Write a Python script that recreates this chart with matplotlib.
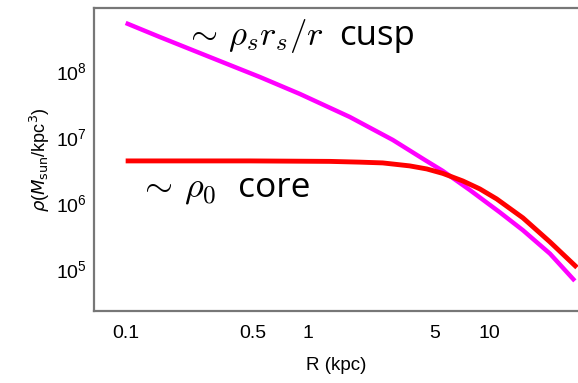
import matplotlib
matplotlib.use('Agg')
import matplotlib.pyplot as plt

# density profiles (R in kpc, rho in Msun/kpc^3)
r_cusp = [0.1, 0.154, 0.225, 0.35, 0.545, 0.904, 1.70, 2.93, 4.39, 5.52,
          7.76, 11.35, 15.2, 21.4, 29.3]
rho_cusp = [5.34e8, 3.27e8, 2.15e8, 1.32e8, 8.11e7, 4.49e7, 2.01e7, 9.01e6, 4.49e6, 3.05e6,
            1.57e6, 7.2e5, 3.85e5, 1.7e5, 6.58e4]

r_core = [0.1, 0.48, 1.32, 1.93, 2.58, 3.63, 4.51, 5.52, 7.11, 8.81, 10.9, 15.2, 21.4, 30.1]
rho_core = [4.33e6, 4.33e6, 4.26e6, 4.15e6, 4.04e6, 3.64e6, 3.27e6, 2.80e6, 2.15e6, 1.63e6,
            1.15e6, 5.93e5, 2.56e5, 1.05e5]

xticks = [0.1, 0.5, 1, 5, 10]
xtick_labels = ['0.1', '0.5', '1', '5', '10']
yticks = [1e5, 1e6, 1e7, 1e8]

fig = plt.figure(figsize=(5.78, 3.83), dpi=100)
ax = fig.add_axes([94 / 578, 1 - 311 / 383, 1 - 94 / 578, (311 - 8) / 383])

ax.plot(r_cusp, rho_cusp, color='#ff00ff', lw=3.2, solid_capstyle='butt', solid_joinstyle='round')
ax.plot(r_core, rho_core, color='#ff0000', lw=3.5, solid_capstyle='butt', solid_joinstyle='round')

ax.set_xscale('log')
ax.set_yscale('log')
ax.set_xlim(0.067, 30.5)
ax.set_ylim(2.3e4, 9.0e8)

ax.set_xticks(xticks)
ax.set_xticklabels(xtick_labels)
ax.set_yticks(yticks)
ax.minorticks_off()
ax.tick_params(axis='x', length=0, pad=10, labelsize=14)
ax.tick_params(axis='y', length=0, pad=5, labelsize=14)
for lab in ax.get_xticklabels() + ax.get_yticklabels():
    lab.set_family('Liberation Sans')

for s in ['left', 'bottom', 'top']:
    ax.spines[s].set_color('#777777')
    ax.spines[s].set_linewidth(1.6)
ax.spines['right'].set_visible(False)

ax.set_xlabel('R (kpc)', fontsize=13.5, family='Liberation Sans', labelpad=11)
ax.set_ylabel(r'$\rho$($M_{\rm sun}$/kpc$^3$)', fontsize=13, family='Liberation Sans', labelpad=3)

# annotations
ax.text(0.210, 2.48e8, r'$\sim\,\rho_s r_s/r$', fontsize=25, math_fontfamily='cm', va='baseline')
ax.text(1.48, 2.48e8, 'cusp', fontsize=25, family='Open Sans', va='baseline')
ax.text(0.117, 1.23e6, r'$\sim\,\rho_0$', fontsize=26, math_fontfamily='cm', va='baseline')
ax.text(0.415, 1.23e6, 'core', fontsize=25.5, family='Open Sans', va='baseline')

fig.savefig('out.png', dpi=100)
